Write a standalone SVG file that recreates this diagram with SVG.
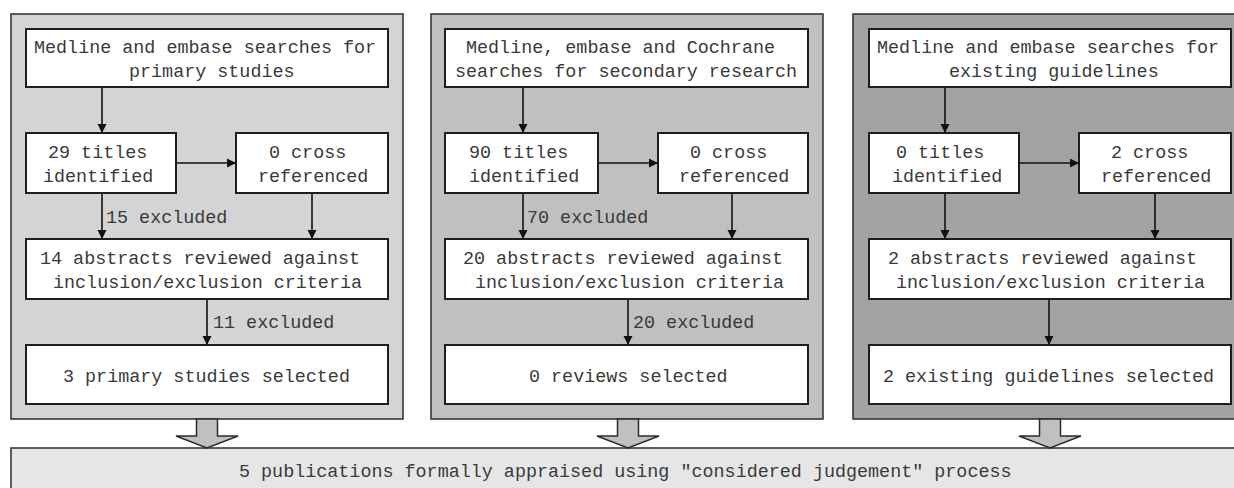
<svg xmlns="http://www.w3.org/2000/svg" width="1234" height="488" viewBox="0 0 1234 488">
<style>
  .panel { stroke: #2b2b2b; stroke-width: 1.5; }
  .p1 { fill: #d4d4d4; }
  .p2 { fill: #c0c0c0; }
  .p3 { fill: #a3a3a3; }
  .box { fill: #ffffff; stroke: #1e1e1e; stroke-width: 2; }
  .big { fill: #e6e6e6; stroke: #2b2b2b; stroke-width: 1.5; }
  .blk { fill: #c0c0c0; stroke: #2b2b2b; stroke-width: 1.5; stroke-linejoin: miter; }
  .t { font-family: "Liberation Mono", "Courier New", monospace; font-size: 18.4px; fill: #3a3a3a; }
  .c { fill: none; stroke: #111; stroke-width: 1.6; marker-end: url(#ah); }
</style>
<defs>
  <marker id="ah" markerUnits="userSpaceOnUse" markerWidth="9" markerHeight="10" viewBox="0 0 9 10" refX="9" refY="5" orient="auto">
    <path d="M0,0.5 L9,5 L0,9.5 Z" fill="#111"/>
  </marker>
</defs>
<rect x="0" y="0" width="1234" height="488" fill="#ffffff"/>

<g id="panel1">
  <rect class="panel p1" x="11" y="14" width="392" height="405"/>
</g>
<g id="panel2">
  <rect class="panel p2" x="431" y="14" width="392" height="405"/>
</g>
<g id="panel3">
  <rect class="panel p3" x="853" y="14" width="392" height="405"/>
</g>

<g id="p1-search">
  <rect class="box" x="26" y="29" width="362" height="58"/>
  <text class="t" x="34" y="53">Medline and embase searches for</text>
  <text class="t" x="129" y="77">primary studies</text>
</g>
<g id="p1-titles">
  <rect class="box" x="26" y="133" width="150" height="60"/>
  <text class="t" x="48" y="158">29 titles</text>
  <text class="t" x="43" y="182">identified</text>
</g>
<g id="p1-cross">
  <rect class="box" x="236" y="133" width="152" height="60"/>
  <text class="t" x="269" y="158">0 cross</text>
  <text class="t" x="258" y="182">referenced</text>
</g>
<g id="p1-abstracts">
  <rect class="box" x="26" y="239" width="362" height="60"/>
  <text class="t" x="40" y="264">14 abstracts reviewed against</text>
  <text class="t" x="53" y="288">inclusion/exclusion criteria</text>
</g>
<g id="p1-selected">
  <rect class="box" x="26" y="345" width="362" height="59"/>
  <text class="t" x="63" y="382">3 primary studies selected</text>
</g>

<g id="p2-search">
  <rect class="box" x="445" y="29" width="363" height="58"/>
  <text class="t" x="466" y="53">Medline, embase and Cochrane</text>
  <text class="t" x="455" y="77">searches for secondary research</text>
</g>
<g id="p2-titles">
  <rect class="box" x="445" y="133" width="153" height="60"/>
  <text class="t" x="469" y="158">90 titles</text>
  <text class="t" x="469" y="182">identified</text>
</g>
<g id="p2-cross">
  <rect class="box" x="658" y="133" width="150" height="60"/>
  <text class="t" x="690" y="158">0 cross</text>
  <text class="t" x="679" y="182">referenced</text>
</g>
<g id="p2-abstracts">
  <rect class="box" x="445" y="239" width="363" height="60"/>
  <text class="t" x="463" y="264">20 abstracts reviewed against</text>
  <text class="t" x="475" y="288">inclusion/exclusion criteria</text>
</g>
<g id="p2-selected">
  <rect class="box" x="445" y="345" width="363" height="59"/>
  <text class="t" x="529" y="382">0 reviews selected</text>
</g>

<g id="p3-search">
  <rect class="box" x="869" y="29" width="362" height="58"/>
  <text class="t" x="877" y="53">Medline and embase searches for</text>
  <text class="t" x="949" y="77">existing guidelines</text>
</g>
<g id="p3-titles">
  <rect class="box" x="869" y="133" width="150" height="60"/>
  <text class="t" x="896" y="158">0 titles</text>
  <text class="t" x="892" y="182">identified</text>
</g>
<g id="p3-cross">
  <rect class="box" x="1079" y="133" width="152" height="60"/>
  <text class="t" x="1111" y="158">2 cross</text>
  <text class="t" x="1101" y="182">referenced</text>
</g>
<g id="p3-abstracts">
  <rect class="box" x="869" y="239" width="362" height="60"/>
  <text class="t" x="888" y="264">2 abstracts reviewed against</text>
  <text class="t" x="896" y="288">inclusion/exclusion criteria</text>
</g>
<g id="p3-selected">
  <rect class="box" x="869" y="345" width="362" height="59"/>
  <text class="t" x="883" y="382">2 existing guidelines selected</text>
</g>

<g id="appraisal">
  <rect class="big" x="11" y="448" width="1240" height="50"/>
  <text class="t" x="239" y="477">5 publications formally appraised using "considered judgement" process</text>
</g>

<g id="connectors">
  <line class="c" x1="102" y1="88" x2="102" y2="133"/>
  <line class="c" x1="177" y1="163" x2="236" y2="163"/>
  <line class="c" x1="102" y1="194" x2="102" y2="239"/>
  <line class="c" x1="312" y1="194" x2="312" y2="239"/>
  <line class="c" x1="207" y1="300" x2="207" y2="345"/>

  <line class="c" x1="523" y1="88" x2="523" y2="133"/>
  <line class="c" x1="599" y1="163" x2="658" y2="163"/>
  <line class="c" x1="523" y1="194" x2="523" y2="239"/>
  <line class="c" x1="732" y1="194" x2="732" y2="239"/>
  <line class="c" x1="628" y1="300" x2="628" y2="345"/>

  <line class="c" x1="945" y1="88" x2="945" y2="133"/>
  <line class="c" x1="1020" y1="163" x2="1079" y2="163"/>
  <line class="c" x1="945" y1="194" x2="945" y2="239"/>
  <line class="c" x1="1155" y1="194" x2="1155" y2="239"/>
  <line class="c" x1="1049" y1="300" x2="1049" y2="345"/>

  <text class="t" x="106" y="223">15 excluded</text>
  <text class="t" x="213" y="328">11 excluded</text>
  <text class="t" x="527" y="223">70 excluded</text>
  <text class="t" x="633" y="328">20 excluded</text>

  <polygon class="blk" points="196.5,419 217.5,419 217.5,436 238,436 207,448 176,436 196.5,436"/>
  <polygon class="blk" points="617.5,419 638.5,419 638.5,436 659,436 628,448 597,436 617.5,436"/>
  <polygon class="blk" points="1039.5,419 1060.5,419 1060.5,436 1081,436 1050,448 1019,436 1039.5,436"/>
</g>
</svg>
